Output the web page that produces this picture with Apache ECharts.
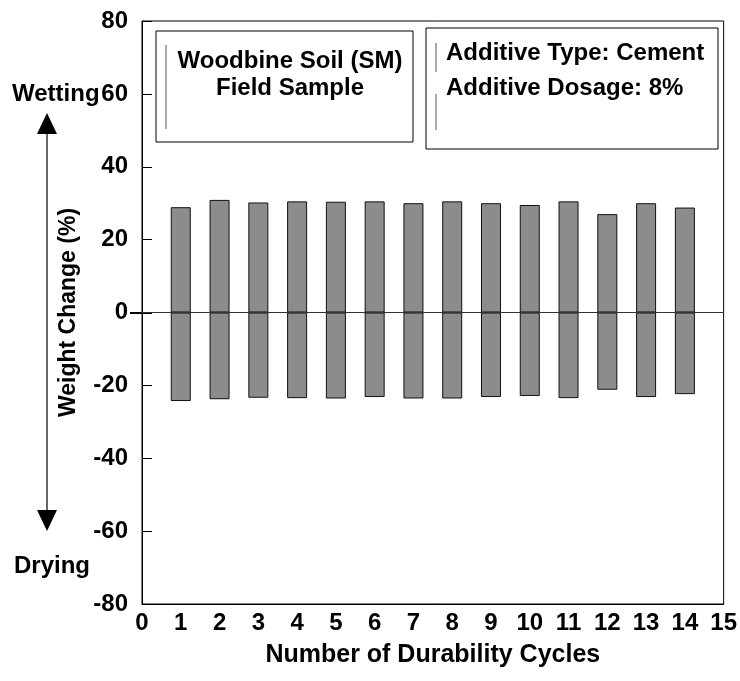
<!DOCTYPE html>
<html>
<head>
<meta charset="utf-8">
<script src="https://cdn.jsdelivr.net/npm/echarts@6/dist/echarts.min.js"></script>
<style>
html,body{margin:0;padding:0;background:#fff;}
#chart{width:740px;height:681px;}
</style>
</head>
<body>
<div id="chart"></div>
<script>
// Data
const cycles = [1, 2, 3, 4, 5, 6, 7, 8, 9, 10, 11, 12, 13, 14];
const wettingGain = [28.9, 30.9, 30.2, 30.5, 30.4, 30.5, 30.0, 30.5, 30.0, 29.5, 30.5, 27.0, 30.0, 28.8];
const dryingLoss = [-24.3, -23.8, -23.4, -23.5, -23.6, -23.2, -23.6, -23.6, -23.2, -22.9, -23.5, -21.2, -23.2, -22.4];
const boxLeftLines = ['Woodbine Soil (SM)', 'Field Sample'];
const boxRightLines = ['Additive Type: Cement', 'Additive Dosage: 8%'];
const xTitle = 'Number of Durability Cycles';
const yTitle = 'Weight Change (%)';

const FONT = '"Liberation Sans", Arial, sans-serif';
const chart = echarts.init(document.getElementById('chart'), null, {renderer: 'canvas'});

const pos = cycles.map((c, i) => [c, wettingGain[i]]);
const neg = cycles.map((c, i) => [c, dryingLoss[i]]);

const barStyle = {color: '#8c8c8c', borderColor: '#111', borderWidth: 1};

chart.setOption({
  animation: false,
  backgroundColor: '#fff',
  grid: {left: 142, top: 21, right: 14, bottom: 77, show: true, borderColor: '#000', borderWidth: 1},
  xAxis: {
    type: 'value', min: 0, max: 15, interval: 1,
    axisLine: {show: true, onZero: false, lineStyle: {color: '#000', width: 1}},
    axisTick: {show: false},
    splitLine: {show: false},
    axisLabel: {color: '#000', fontFamily: FONT, fontWeight: 'bold', fontSize: 24, margin: 7},
    name: xTitle, nameLocation: 'middle', nameGap: 39,
    nameTextStyle: {color: '#000', fontFamily: FONT, fontWeight: 'bold', fontSize: 25}
  },
  yAxis: {
    type: 'value', min: -80, max: 80, interval: 20,
    axisLine: {show: true, onZero: false, lineStyle: {color: '#000', width: 1}},
    axisTick: {show: true, inside: true, length: 10, lineStyle: {color: '#000'}},
    splitLine: {show: false},
    axisLabel: {color: '#000', fontFamily: FONT, fontWeight: 'bold', fontSize: 24, margin: 14},
    name: yTitle, nameLocation: 'middle', nameGap: 62, nameRotate: 90,
    nameTextStyle: {color: '#000', fontFamily: FONT, fontWeight: 'bold', fontSize: 23}
  },
  series: [
    {
      type: 'bar', name: 'Wetting', data: pos, barWidth: 20, barGap: '-100%',
      itemStyle: barStyle,
      markLine: {
        silent: true, symbol: 'none', label: {show: false},
        lineStyle: {color: '#333', width: 1.2, type: 'solid'},
        data: [{yAxis: 0}]
      }
    },
    {
      type: 'bar', name: 'Drying', data: neg, barWidth: 20, barGap: '-100%',
      itemStyle: barStyle
    }
  ],
  graphic: [
    // left info box
    {type: 'rect', shape: {x: 156, y: 31, width: 257, height: 111}, style: {fill: '#fff', stroke: '#000', lineWidth: 1}, z: 10},
    {type: 'line', shape: {x1: 166, y1: 45, x2: 166, y2: 129}, style: {stroke: '#555', lineWidth: 1}, z: 11},
    {type: 'text', x: 290, y: 61, style: {text: boxLeftLines[0], fill: '#000', font: 'bold 24px ' + FONT, textAlign: 'center', textVerticalAlign: 'middle'}, z: 11},
    {type: 'text', x: 290, y: 88, style: {text: boxLeftLines[1], fill: '#000', font: 'bold 24px ' + FONT, textAlign: 'center', textVerticalAlign: 'middle'}, z: 11},
    // right info box
    {type: 'rect', shape: {x: 426, y: 28, width: 292, height: 121}, style: {fill: '#fff', stroke: '#000', lineWidth: 1}, z: 10},
    {type: 'line', shape: {x1: 436, y1: 43, x2: 436, y2: 72}, style: {stroke: '#555', lineWidth: 1}, z: 11},
    {type: 'line', shape: {x1: 436, y1: 94, x2: 436, y2: 130}, style: {stroke: '#555', lineWidth: 1}, z: 11},
    {type: 'text', x: 446, y: 53, style: {text: boxRightLines[0], fill: '#000', font: 'bold 24px ' + FONT, textAlign: 'left', textVerticalAlign: 'middle'}, z: 11},
    {type: 'text', x: 446, y: 88, style: {text: boxRightLines[1], fill: '#000', font: 'bold 24px ' + FONT, textAlign: 'left', textVerticalAlign: 'middle'}, z: 11},
    // wetting / drying annotations
    {type: 'text', x: 12, y: 94, style: {text: 'Wetting', fill: '#000', font: 'bold 24px ' + FONT, textAlign: 'left', textVerticalAlign: 'middle'}},
    {type: 'text', x: 14, y: 566, style: {text: 'Drying', fill: '#000', font: 'bold 24px ' + FONT, textAlign: 'left', textVerticalAlign: 'middle'}},
    {type: 'line', shape: {x1: 47, y1: 128, x2: 47, y2: 516}, style: {stroke: '#000', lineWidth: 1.2}},
    {type: 'polygon', shape: {points: [[47, 113], [37, 134], [57, 134]]}, style: {fill: '#000'}},
    {type: 'polygon', shape: {points: [[47, 531], [37, 510], [57, 510]]}, style: {fill: '#000'}},
    // zero tick extending outside the axis
    {type: 'line', shape: {x1: 130, y1: 313, x2: 152, y2: 313}, style: {stroke: '#000', lineWidth: 2}}
  ]
});
</script>
</body>
</html>
